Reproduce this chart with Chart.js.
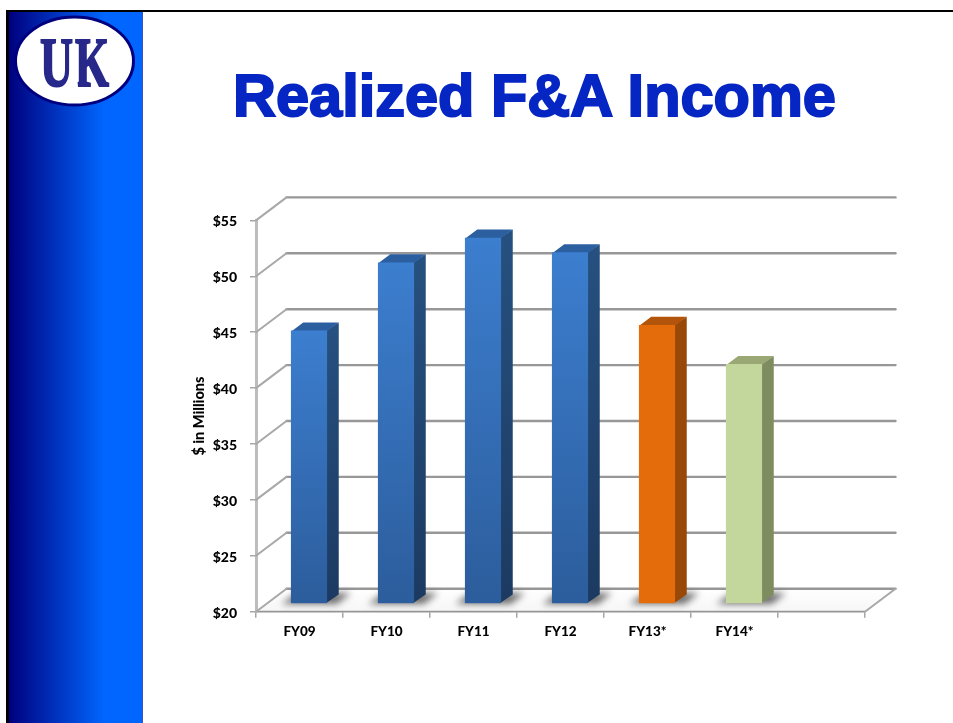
<!DOCTYPE html>
<html><head><meta charset="utf-8">
<script src="https://cdn.jsdelivr.net/npm/chart.js@4/dist/chart.umd.min.js"></script>
<style>
html,body{margin:0;padding:0;background:#fff;width:953px;height:723px;overflow:hidden}
#frameTop{position:absolute;left:6px;top:10px;width:947px;height:2px;background:#000}
#frameLeft{position:absolute;left:6px;top:10px;width:3px;height:713px;background:#000}
#panel{position:absolute;left:9px;top:12px;width:133px;height:711px;background:linear-gradient(90deg,#00007f 0%,#0066ff 72%,#0066ff 100%);border-right:1px solid #3a4fc0}
#logo{position:absolute;left:0;top:0}
#title{position:absolute;left:143px;width:783px;top:63px;margin:0;text-align:center;font:bold 59.5px/66px "Liberation Sans",Arial,sans-serif;color:#0626c4;-webkit-text-stroke:2px #0626c4;paint-order:stroke fill;white-space:nowrap;letter-spacing:0}
#wrap{position:absolute;left:0;top:0;width:953px;height:723px}
</style></head>
<body>
<div id="frameTop"></div><div id="frameLeft"></div><div id="panel"></div>
<svg id="logo" width="150" height="115">
<ellipse cx="74.5" cy="61" rx="59" ry="44" fill="#fff" stroke="#00007f" stroke-width="3"/>
<text x="40" y="86" font-family="Liberation Serif" font-weight="bold" font-size="70" fill="#27288a" stroke="#27288a" stroke-width="2" textLength="33" lengthAdjust="spacingAndGlyphs">U</text>
<text x="75" y="86" font-family="Liberation Serif" font-weight="bold" font-size="70" fill="#27288a" stroke="#27288a" stroke-width="2" textLength="34" lengthAdjust="spacingAndGlyphs">K</text>
<path d="M73 46l1.500 8 1 8 1 8 1.500 17h-9l1.500-17 1-8 1-8z" fill="#fff"/>
</svg>
<h1 id="title">Realized F&amp;A Income</h1>
<div id="wrap"><canvas id="c" width="953" height="723"></canvas></div>
<script>
const categories = ['FY09','FY10','FY11','FY12','FY13*','FY14*',''];
const incomeValues = [44.4,50.5,52.7,51.4,44.9,41.4,null];
const axisMin = 20, axisMax = 55, axisStep = 5;
const faceTop    = ['#3c7ecf','#3c7ecf','#3c7ecf','#3c7ecf','#e46c0a','#c3d69b'];
const faceBottom = ['#2c5d9c','#2c5d9c','#2c5d9c','#2c5d9c','#e46c0a','#c3d69b'];
const sideTop    = ['#26507f','#26507f','#26507f','#26507f','#984807','#7f8c60'];
const sideBottom = ['#1c3a61','#1c3a61','#1c3a61','#1c3a61','#984807','#7f8c60'];
const capColor   = ['#2b5f9f','#2b5f9f','#2b5f9f','#2b5f9f','#b25409','#9aa875'];

const BACK = {dx:30.5, dy:-23};
const BAR_SHIFT = {dx:9.5, dy:-8};
const DEPTH = {dx:12, dy:-8.5};
const FONT = 'Lato, "Open Sans", sans-serif';

const walls = {
  id:'walls',
  beforeDatasetsDraw(chart){
    const {ctx, scales:{y}, chartArea:a} = chart;
    ctx.save();
    ctx.lineCap='round';
    const py0=y.getPixelForValue(axisMin);
    const g=ctx.createLinearGradient(0,py0+BACK.dy,0,py0);
    g.addColorStop(0,'#ffffff'); g.addColorStop(1,'#f6f6f6');
    ctx.fillStyle=g;
    ctx.beginPath(); ctx.moveTo(a.left+1,py0-1); ctx.lineTo(a.left+BACK.dx,py0+BACK.dy+1); ctx.lineTo(a.right+BACK.dx,py0+BACK.dy+1); ctx.lineTo(a.right,py0-1); ctx.closePath(); ctx.fill();
    const tickVals=[]; for(let v=axisMin;v<=axisMax;v+=axisStep) tickVals.push(v);
    tickVals.forEach(v=>{
      const py=y.getPixelForValue(v);
      ctx.strokeStyle='#979797'; ctx.lineWidth=2.4;
      ctx.beginPath(); ctx.moveTo(a.left+BACK.dx,py+BACK.dy); ctx.lineTo(a.right+BACK.dx,py+BACK.dy); ctx.stroke();
      ctx.strokeStyle='#a8a8a8'; ctx.lineWidth=2;
      ctx.beginPath(); ctx.moveTo(a.left,py); ctx.lineTo(a.left+BACK.dx,py+BACK.dy); ctx.stroke();
    });
    ctx.beginPath(); ctx.moveTo(a.right,py0); ctx.lineTo(a.right+BACK.dx,py0+BACK.dy); ctx.stroke();
    ctx.restore();

    const bars=chart.getDatasetMeta(0).data;
    ctx.save();
    ctx.translate(BAR_SHIFT.dx,BAR_SHIFT.dy);
    bars.forEach((b,i)=>{
      if(incomeValues[i]==null) return;
      const L=b.x-b.width/2,R=b.x+b.width/2,B=b.base;
      ctx.save();
      ctx.filter='blur(3.5px)';
      ctx.fillStyle='rgba(70,70,70,0.8)';
      ctx.beginPath(); ctx.moveTo(L-10,B+1); ctx.lineTo(R+10,B+1); ctx.lineTo(R+24,B-10); ctx.lineTo(L+6,B-10); ctx.closePath(); ctx.fill();
      ctx.restore();
      const sg=ctx.createLinearGradient(0,b.y,0,B);
      sg.addColorStop(0,sideTop[i]); sg.addColorStop(1,sideBottom[i]);
      ctx.fillStyle=sg;
      ctx.beginPath(); ctx.moveTo(R-.5,b.y); ctx.lineTo(R+DEPTH.dx,b.y+DEPTH.dy); ctx.lineTo(R+DEPTH.dx,B+DEPTH.dy); ctx.lineTo(R-.5,B); ctx.closePath(); ctx.fill();
      ctx.fillStyle=capColor[i];
      ctx.beginPath(); ctx.moveTo(L,b.y+.5); ctx.lineTo(L+DEPTH.dx,b.y+DEPTH.dy); ctx.lineTo(R+DEPTH.dx,b.y+DEPTH.dy); ctx.lineTo(R,b.y+.5); ctx.closePath(); ctx.fill();
    });
    // the shift stays on for the library's own drawing of the front faces
  },
  afterDatasetsDraw(chart){ chart.ctx.restore(); }
};

new Chart(document.getElementById('c'),{
  type:'bar',
  plugins:[walls],
  data:{labels:categories,datasets:[{
    data:incomeValues,
    base:axisMin,
    barThickness:35.5,
    borderWidth:0,
    backgroundColor(c){
      const i=c.dataIndex, chart=c.chart, y=chart.scales.y;
      if(!y||incomeValues[i]==null) return faceTop[0];
      const p0=y.getPixelForValue(incomeValues[i]), p1=y.getPixelForValue(axisMin);
      if(!Number.isFinite(p0)||!Number.isFinite(p1)) return faceTop[i];
      const g=chart.ctx.createLinearGradient(0,p0,0,p1);
      g.addColorStop(0,faceTop[i]); g.addColorStop(1,faceBottom[i]);
      return g;
    }
  }]},
  options:{
    responsive:false,animation:false,
    layout:{padding:{left:190,top:220.4,right:88,bottom:0}},
    plugins:{legend:{display:false},tooltip:{enabled:false},title:{display:false}},
    scales:{
      x:{
        grid:{drawOnChartArea:false,color:'#a6a6a6',tickLength:6,lineWidth:1.5},
        border:{color:'#969696',width:2.5},
        ticks:{color:'#000',font:{family:FONT,weight:900,size:13.5},padding:6,maxRotation:0,autoSkip:false},
        afterFit(s){s.height=111.3;}
      },
      y:{
        min:axisMin,max:axisMax,
        grid:{drawOnChartArea:false,color:'#a6a6a6',tickLength:6,lineWidth:1.5},
        border:{color:'#bdbdbd',width:3},
        ticks:{stepSize:axisStep,color:'#000',padding:13,labelOffset:1.5,font:{family:FONT,weight:900,size:14},callback:v=>'$'+v},
        title:{display:true,text:'$ in Millions',color:'#000',font:{family:FONT,weight:900,size:14.5},padding:{top:1,bottom:0}},
        afterFit(s){s.width=66;}
      }
    }
  }
});
</script>
</body></html>
